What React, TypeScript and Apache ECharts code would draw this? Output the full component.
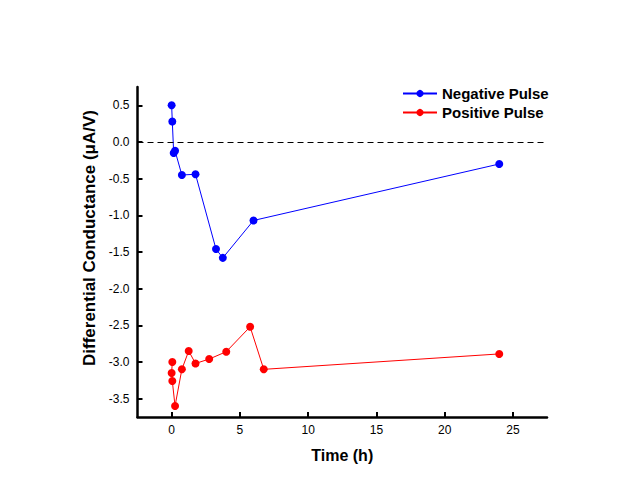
import React, { useEffect, useRef } from "react";
import * as echarts from "echarts";

const negX = [0, 0.05, 0.15, 0.25, 0.75, 1.75, 3.25, 3.75, 6, 24];
const negY = [0.5, 0.28, -0.15, -0.12, -0.45, -0.44, -1.46, -1.58, -1.07, -0.3];
const posX = [0.05, 0, 0.05, 0.25, 0.75, 1.25, 1.75, 2.75, 4, 5.75, 6.75, 24];
const posY = [-3.0, -3.15, -3.26, -3.6, -3.1, -2.85, -3.02, -2.96, -2.86, -2.52, -3.1, -2.89];
const xTicks = [0, 5, 10, 15, 20, 25];
const yTicks = [-3.5, -3.0, -2.5, -2.0, -1.5, -1.0, -0.5, 0.0, 0.5];

const FONT = "'Liberation Sans', Arial, sans-serif";

export default function App() {
  const ref = useRef<HTMLDivElement>(null);
  useEffect(() => {
    if (!ref.current) return;
    const chart = echarts.init(ref.current, null, { renderer: "svg" });
    const pair = (xs: number[], ys: number[]) => xs.map((x, i) => [x, ys[i]]);
    chart.setOption({
      animation: false,
      backgroundColor: "#ffffff",
      textStyle: { fontFamily: FONT },
      grid: { left: 137.5, top: 87, right: 97, bottom: 61 },
      legend: {
        orient: "vertical",
        left: 397,
        top: 81,
        itemWidth: 34,
        itemHeight: 9,
        itemGap: 4,
        textStyle: { fontFamily: FONT, fontSize: 15, fontWeight: "bold", color: "#000" },
        data: ["Negative Pulse", "Positive Pulse"],
      },
      xAxis: {
        type: "value",
        min: -2.5,
        max: 27.5,
        name: "Time (h)",
        nameLocation: "middle",
        nameGap: 30,
        nameTextStyle: { fontFamily: FONT, fontSize: 16, fontWeight: "bold", color: "#000" },
        axisLine: { onZero: false, lineStyle: { color: "#000", width: 2.5 } },
        axisTick: { inside: true, length: 5, lineStyle: { color: "#000", width: 2 }, customValues: xTicks },
        axisLabel: { customValues: xTicks, color: "#000", fontSize: 12, margin: 7, fontFamily: FONT },
        splitLine: { show: false },
      },
      yAxis: {
        type: "value",
        min: -3.75,
        max: 0.75,
        name: "Differential Conductance (μA/V)",
        nameLocation: "middle",
        nameGap: 38,
        nameTextStyle: {
          fontFamily: FONT,
          fontSize: 17,
          fontWeight: "bold",
          color: "#000",
          padding: [0, 0, 0, 28],
        },
        axisLine: { show: true, onZero: false, lineStyle: { color: "#000", width: 2.5 } },
        axisTick: { show: true, inside: true, length: 5, lineStyle: { color: "#000", width: 2 }, customValues: yTicks },
        axisLabel: {
          customValues: yTicks,
          color: "#000",
          fontSize: 12,
          margin: 8,
          fontFamily: FONT,
          formatter: (v: number) => v.toFixed(1),
        },
        splitLine: { show: false },
      },
      series: [
        {
          name: "Negative Pulse",
          type: "line",
          data: pair(negX, negY),
          color: "#0000ff",
          symbol: "circle",
          symbolSize: 8,
          lineStyle: { width: 1, color: "#0000ff" },
          itemStyle: { color: "#0000ff" },
          markLine: {
            silent: true,
            symbol: ["none", "none"],
            label: { show: false },
            lineStyle: { color: "#000", type: [6, 4], width: 1 },
            data: [{ yAxis: 0 }],
          },
          z: 3,
        },
        {
          name: "Positive Pulse",
          type: "line",
          data: pair(posX, posY),
          color: "#ff0000",
          symbol: "circle",
          symbolSize: 8,
          lineStyle: { width: 1, color: "#ff0000" },
          itemStyle: { color: "#ff0000" },
          z: 3,
        },
      ],
    });
    return () => chart.dispose();
  }, []);
  return <div ref={ref} style={{ position: "absolute", left: 0, top: 0, width: 644, height: 478 }} />;
}
